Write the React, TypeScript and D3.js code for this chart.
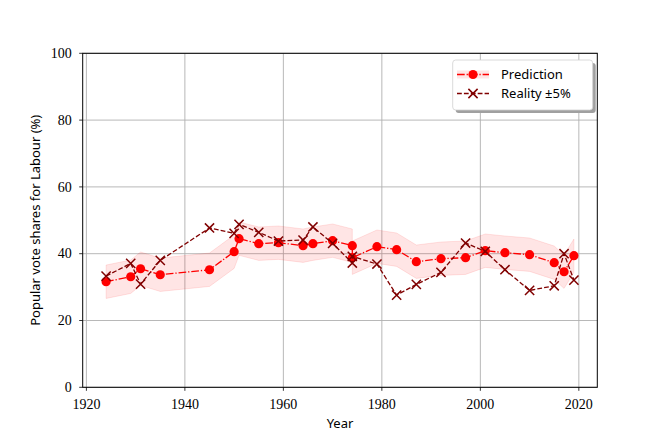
import React from 'react';
import * as d3 from 'd3';

// election years (1974 had two elections)
const years = [1924, 1929, 1931, 1935, 1945, 1950, 1951, 1955, 1959, 1964, 1966, 1970, 1974, 1974, 1979, 1983, 1987, 1992, 1997, 2001, 2005, 2010, 2015, 2017, 2019];
const predicted = [31.6, 33.1, 35.5, 33.7, 35.2, 40.6, 44.5, 43.0, 43.3, 42.4, 43.0, 43.9, 42.4, 38.8, 42.1, 41.2, 37.6, 38.5, 38.8, 40.9, 40.3, 39.7, 37.3, 34.6, 39.4];
const actual = [33.3, 37.1, 30.9, 38.0, 47.7, 46.1, 48.8, 46.4, 43.8, 44.1, 48.0, 43.1, 37.2, 39.2, 36.9, 27.6, 30.8, 34.4, 43.2, 40.7, 35.2, 29.0, 30.4, 40.0, 32.1];
const band = 5;

const xTicks = [1920, 1940, 1960, 1980, 2000, 2020];
const yTicks = [0, 20, 40, 60, 80, 100];

const W = 664, H = 443;
const plot = { left: 82.7, right: 597.3, top: 53.3, bottom: 387.3 };

const serif = '"Liberation Serif", "DejaVu Serif", serif';
const sans = '"Noto Sans", "DejaVu Sans", sans-serif';

const App: React.FC = () => {
  const x = d3.scaleLinear().domain([1919.25, 2023.75]).range([plot.left, plot.right]);
  const y = d3.scaleLinear().domain([0, 100]).range([plot.bottom, plot.top]);

  const idx = d3.range(years.length);

  const area = d3.area<number>()
    .x(i => x(years[i]))
    .y0(i => y(predicted[i] - band))
    .y1(i => y(predicted[i] + band));

  const predLine = d3.line<number>().x(i => x(years[i])).y(i => y(predicted[i]));
  const realLine = d3.line<number>().x(i => x(years[i])).y(i => y(actual[i]));

  const cross = (cx: number, cy: number, k: number) => {
    const s = 4.6;
    return (
      <path key={k} d={`M${cx - s},${cy - s}L${cx + s},${cy + s}M${cx - s},${cy + s}L${cx + s},${cy - s}`}
        stroke="#800000" strokeWidth={1.5} fill="none" />
    );
  };

  // legend
  const lg = { x: 452.7, y: 60, w: 140, h: 50 };

  return (
    <svg width={W} height={H} style={{ position: 'absolute', left: 0, top: 0, background: '#fff' }}>
      {/* grid */}
      <g stroke="#b0b0b0" strokeWidth={0.9}>
        {xTicks.map(t => <line key={'gx' + t} x1={x(t)} x2={x(t)} y1={plot.top} y2={plot.bottom} />)}
        {yTicks.map(t => <line key={'gy' + t} x1={plot.left} x2={plot.right} y1={y(t)} y2={y(t)} />)}
      </g>

      {/* band around prediction */}
      <path d={area(idx) ?? ''} fill="#ff0000" fillOpacity={0.1} stroke="#ff0000" strokeOpacity={0.1} strokeWidth={1} />

      {/* prediction */}
      <path d={predLine(idx) ?? ''} fill="none" stroke="#ff0000" strokeWidth={1.3} strokeDasharray="7.7,1.9,1.3,1.9" />
      {idx.map(i => <circle key={'p' + i} cx={x(years[i])} cy={y(predicted[i])} r={4.6} fill="#ff0000" />)}

      {/* reality */}
      <path d={realLine(idx) ?? ''} fill="none" stroke="#800000" strokeWidth={1.3} strokeDasharray="4.8,2.1" />
      {idx.map(i => cross(x(years[i]), y(actual[i]), i))}

      {/* spines */}
      <rect x={plot.left} y={plot.top} width={plot.right - plot.left} height={plot.bottom - plot.top}
        fill="none" stroke="#000" strokeWidth={1} />

      {/* x axis */}
      <g fontFamily={serif} fontSize={14} fill="#000">
        {xTicks.map(t => (
          <g key={'xt' + t}>
            <line x1={x(t)} x2={x(t)} y1={plot.bottom} y2={plot.bottom + 3.5} stroke="#000" strokeWidth={0.8} />
            <text x={x(t)} y={plot.bottom + 22} textAnchor="middle">{t}</text>
          </g>
        ))}
        {yTicks.map(t => (
          <g key={'yt' + t}>
            <line x1={plot.left - 3.5} x2={plot.left} y1={y(t)} y2={y(t)} stroke="#000" strokeWidth={0.8} />
            <text x={plot.left - 11} y={y(t)} dy="0.33em" textAnchor="end">{t}</text>
          </g>
        ))}
      </g>

      <text x={(plot.left + plot.right) / 2} y={428} textAnchor="middle" fontFamily={sans} fontSize={13}>Year</text>
      <text transform={`translate(40,${(plot.top + plot.bottom) / 2}) rotate(-90)`} textAnchor="middle"
        fontFamily={sans} fontSize={13}>Popular vote shares for Labour (%)</text>

      {/* legend */}
      <rect x={lg.x + 3} y={lg.y + 3} width={lg.w} height={lg.h} rx={3} fill="#a0a0a0" />
      <rect x={lg.x} y={lg.y} width={lg.w} height={lg.h} rx={3} fill="#fff" stroke="#d0d0d0" strokeWidth={0.8} />
      <rect x={457} y={70.5} width={32} height={8} fill="#ff0000" fillOpacity={0.1} />
      <line x1={457} x2={489} y1={74.5} y2={74.5} stroke="#ff0000" strokeWidth={1.3} strokeDasharray="7.7,1.9,1.3,1.9" />
      <circle cx={473} cy={74.5} r={4.6} fill="#ff0000" />
      <line x1={457} x2={489} y1={93.5} y2={93.5} stroke="#800000" strokeWidth={1.3} strokeDasharray="4.8,2.1" />
      {cross(473, 93.5, -1)}
      <g fontFamily={sans} fontSize={13}>
        <text x={501} y={74.5} dy="0.35em">Prediction</text>
        <text x={501} y={93.5} dy="0.35em">Reality ±5%</text>
      </g>
    </svg>
  );
};

export default App;
